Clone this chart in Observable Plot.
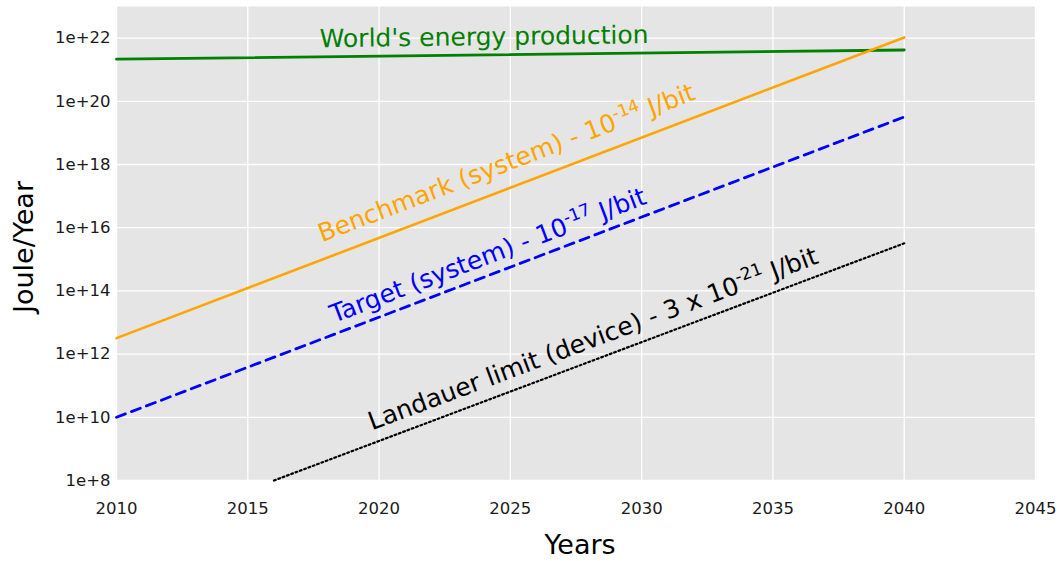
<!DOCTYPE html>
<html>
<head>
<meta charset="utf-8">
<script src="https://cdn.jsdelivr.net/npm/d3@7"></script>
<script src="https://cdn.jsdelivr.net/npm/@observablehq/plot@0.6"></script>
<style>
  html, body { margin: 0; padding: 0; background: #fff; }
  svg { display: block; }
</style>
</head>
<body>
<div id="chart"></div>
<script>
// ---- data ----
const years = [2010, 2040];
const worldEnergy = [2.15e21, 4.2e21];
const benchmark = [3.2e12, 1.05e22];
const target = [1.0e10, 3.2e19];
const landauerYears = [2016, 2040];
const landauer = [1e8, 3.2e15];

const xTicks = [2010, 2015, 2020, 2025, 2030, 2035, 2040, 2045];
const yTicks = [1e8, 1e10, 1e12, 1e14, 1e16, 1e18, 1e20, 1e22];

const labelTexts = [
  "World's energy production",
  "Benchmark (system) - 10^{-14} J/bit",
  "Target (system) - 10^{-17} J/bit",
  "Landauer limit (device) - 3 x 10^{-21} J/bit"
];
const labelYears = [2024.0, 2024.85, 2024.15, 2028.15];
const labelValues = [1.07e22, 1.1e18, 1.3e15, 3.0e12];

// ---- tables built from arrays ----
const worldRows = years.map((y, i) => ({year: y, value: worldEnergy[i]}));
const benchRows = years.map((y, i) => ({year: y, value: benchmark[i]}));
const targetRows = years.map((y, i) => ({year: y, value: target[i]}));
const landRows = landauerYears.map((y, i) => ({year: y, value: landauer[i]}));
const labelRows = labelTexts.map((t, i) => ({text: t, year: labelYears[i], value: labelValues[i]}));

const FONT = "DejaVu Sans, sans-serif";
const labelStyle = [
  {fill: "green", rotate: -0.7, sup: 17},
  {fill: "orange", rotate: -20.9, sup: 17},
  {fill: "blue", rotate: -20.9, sup: 17},
  {fill: "black", rotate: -20.5, sup: 20}
];

const svg = Plot.plot({
  width: 1059,
  height: 561,
  marginLeft: 116,
  marginRight: 24,
  marginTop: 6,
  marginBottom: 81,
  style: {fontFamily: FONT, background: "#fff"},
  x: {domain: [2010, 2045]},
  y: {type: "log", domain: [1e8, 1e23]},
  marks: [
    Plot.frame({fill: "#E5E5E5", stroke: null}),
    Plot.gridX(xTicks, {stroke: "#fff", strokeOpacity: 1, strokeWidth: 1.3}),
    Plot.gridY(yTicks, {stroke: "#fff", strokeOpacity: 1, strokeWidth: 1.3}),
    Plot.axisX(xTicks, {tickSize: 0, tickPadding: 22, fontSize: 16.5, fill: "#1a1a1a", tickFormat: d => String(d), label: null}),
    Plot.axisY(yTicks, {tickSize: 0, tickPadding: 6, fontSize: 16.5, fill: "#1a1a1a", tickFormat: d => "1e+" + Math.round(Math.log10(d)), label: null}),
    Plot.line(worldRows, {x: "year", y: "value", stroke: "green", strokeWidth: 2.8}),
    Plot.line(benchRows, {x: "year", y: "value", stroke: "orange", strokeWidth: 2.6}),
    Plot.line(targetRows, {x: "year", y: "value", stroke: "blue", strokeWidth: 2.8, strokeDasharray: "9.5,6.5"}),
    Plot.line(landRows, {x: "year", y: "value", stroke: "black", strokeWidth: 2.2, strokeDasharray: "1.8,2.8"}),
    ...labelRows.map((r, i) => Plot.text([r], {
      x: "year", y: "value", text: "text",
      fill: labelStyle[i].fill, rotate: labelStyle[i].rotate,
      fontSize: 25, textAnchor: "middle", lineAnchor: "middle",
      ariaLabel: "sup" + labelStyle[i].sup
    })),
    Plot.text(["Years"], {frameAnchor: "bottom", dx: 4, dy: 64.5, fontSize: 27, textAnchor: "middle", lineAnchor: "middle", fill: "#000"}),
    Plot.text(["Joule/Year"], {frameAnchor: "left", dx: -92.5, dy: 3.5, rotate: -90, fontSize: 27, textAnchor: "middle", lineAnchor: "middle", fill: "#000"})
  ]
});

// turn ^{...} into real superscript tspans
d3.select(svg).selectAll("text").each(function() {
  const t = this.textContent;
  if (!t || !t.includes("^{")) return;
  const g = this.closest("g[aria-label]");
  const m = g && /^sup(\d+)/.exec(g.getAttribute("aria-label"));
  const supSize = m ? +m[1] : 17;
  const shift = supSize >= 20 ? 11 : 10;
  const parts = t.split(/(\^\{[^}]*\})/).filter(p => p.length);
  const sel = d3.select(this);
  sel.text(null);
  let raised = false;
  parts.forEach(p => {
    if (p.startsWith("^{")) {
      sel.append("tspan").attr("font-size", supSize + "px").attr("dy", -shift).text(p.slice(2, -1));
      raised = true;
    } else {
      const ts = sel.append("tspan").text(p);
      if (raised) { ts.attr("dy", shift); raised = false; }
    }
  });
});

document.getElementById("chart").appendChild(svg);
</script>
</body>
</html>
